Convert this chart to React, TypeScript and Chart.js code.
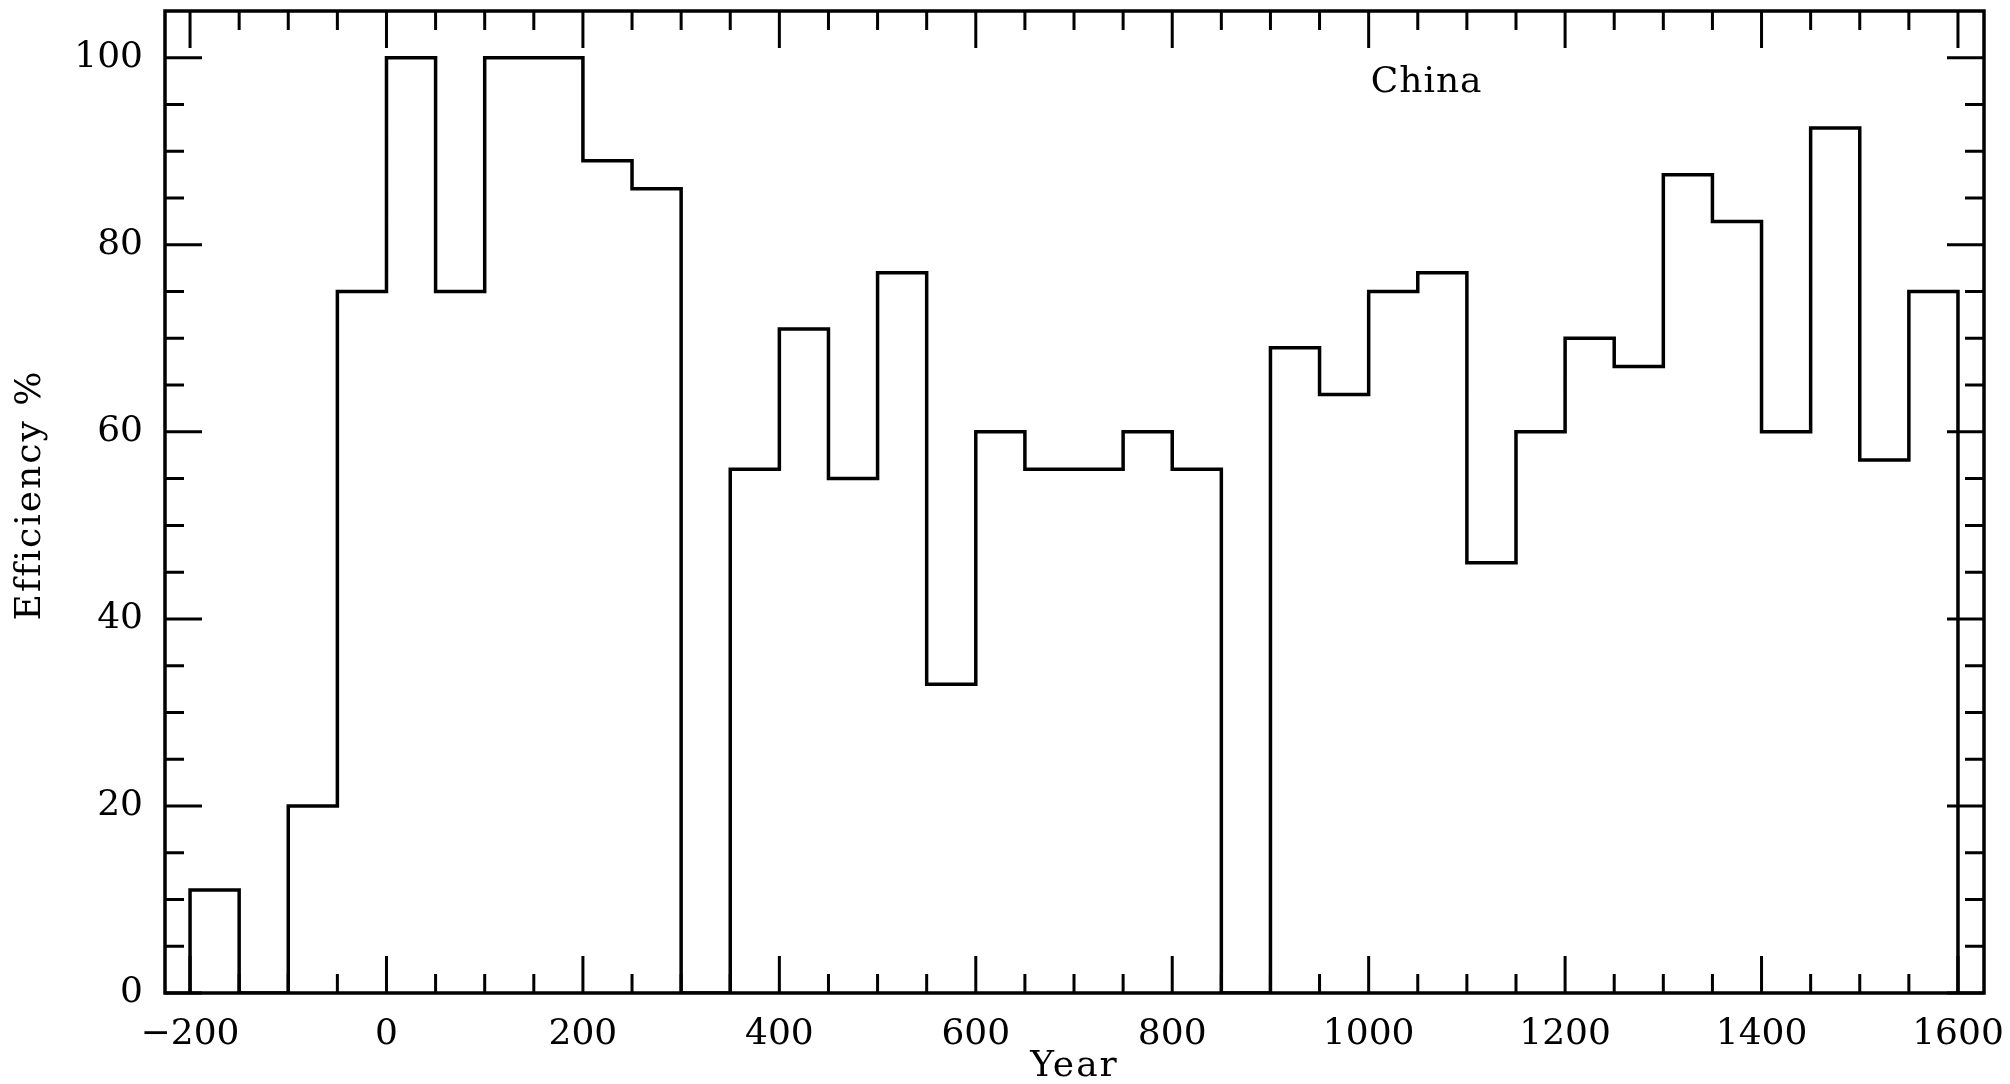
import React, { useEffect, useRef } from 'react';
import { Chart, registerables } from 'chart.js';

Chart.register(...registerables);

// Left edge (year) of each 50-year bin
const binStarts = [
  -200, -150, -100, -50, 0, 50, 100, 150, 200, 250,
  300, 350, 400, 450, 500, 550, 600, 650, 700, 750,
  800, 850, 900, 950, 1000, 1050, 1100, 1150, 1200, 1250,
  1300, 1350, 1400, 1450, 1500, 1550,
];
const binWidth = 50;

// Efficiency % per bin
const efficiency = [
  11, 0, 20, 75, 100, 75, 100, 100, 89, 86,
  0, 56, 71, 55, 77, 33, 60, 56, 56, 60,
  56, 0, 69, 64, 75, 77, 46, 60, 70, 67,
  87.5, 82.5, 60, 92.5, 57, 75,
];

const xTickLabels = [-200, 0, 200, 400, 600, 800, 1000, 1200, 1400, 1600];
const yTickLabels = [0, 20, 40, 60, 80, 100];
const xMinorStep = 50;
const yMinorStep = 5;

const xTitle = 'Year';
const yTitle = 'Efficiency %';
const regionLabel = 'China';
const regionLabelPos = { x: 1059, y: 97.3 };

const FONT_FAMILY = '"DejaVu Serif", "Liberation Serif", serif';
const FONT_SIZE = 36;

const W = 2010;
const H = 1084;
const PLOT = { left: 165, right: 1984, top: 11, bottom: 993 };
const X_TITLE_Y = 1067;
const Y_TITLE_X = 31;
const Y_TITLE_Y = 495;
const LINE_W = 3.5;

const framePlugin = {
  id: 'frameTicks',
  afterDraw(chart: any) {
    const { ctx, chartArea, scales } = chart;
    const { left, right, top, bottom } = chartArea;
    const xs = scales.x;
    const ys = scales.y;
    const majorLen = 37;
    const minorLen = 19;
    ctx.save();
    ctx.strokeStyle = '#000';
    ctx.lineWidth = 3;
    ctx.lineCap = 'butt';
    ctx.lineJoin = 'miter';
    ctx.beginPath();
    const x0 = xTickLabels[0];
    const x1 = xTickLabels[xTickLabels.length - 1];
    for (let v = x0; v <= x1; v += xMinorStep) {
      const px = xs.getPixelForValue(v);
      const len = xTickLabels.includes(v) ? majorLen : minorLen;
      ctx.moveTo(px, bottom);
      ctx.lineTo(px, bottom - len);
      ctx.moveTo(px, top);
      ctx.lineTo(px, top + len);
    }
    const y0 = yTickLabels[0];
    const y1 = yTickLabels[yTickLabels.length - 1];
    for (let v = y0; v <= y1; v += yMinorStep) {
      const py = ys.getPixelForValue(v);
      const len = yTickLabels.includes(v) ? majorLen : minorLen;
      ctx.moveTo(left, py);
      ctx.lineTo(left + len, py);
      ctx.moveTo(right, py);
      ctx.lineTo(right - len, py);
    }
    ctx.stroke();
    ctx.lineWidth = LINE_W;
    ctx.strokeRect(left, top, right - left, bottom - top);

    ctx.fillStyle = '#000';
    ctx.font = `${FONT_SIZE}px ${FONT_FAMILY}`;
    ctx.textAlign = 'center';
    ctx.textBaseline = 'middle';
    (ctx as any).letterSpacing = '1px';
    ctx.fillText(
      regionLabel,
      xs.getPixelForValue(regionLabelPos.x),
      ys.getPixelForValue(regionLabelPos.y)
    );
    (ctx as any).letterSpacing = '2px';
    ctx.fillText(xTitle, (left + right) / 2, X_TITLE_Y);
    ctx.save();
    ctx.translate(Y_TITLE_X, Y_TITLE_Y);
    ctx.rotate(-Math.PI / 2);
    ctx.fillText(yTitle, 0, 0);
    ctx.restore();
    ctx.restore();
  },
};

export default function App() {
  const canvasRef = useRef<HTMLCanvasElement | null>(null);

  useEffect(() => {
    const canvas = canvasRef.current;
    if (!canvas) return;

    const lastEdge = binStarts[binStarts.length - 1] + binWidth;
    const points = [
      { x: binStarts[0], y: 0 },
      ...binStarts.map((x, i) => ({ x, y: efficiency[i] })),
      { x: lastEdge, y: 0 },
    ];

    const font = { family: FONT_FAMILY, size: FONT_SIZE, weight: 'normal' as const };

    const chart = new Chart(canvas, {
      type: 'line',
      data: {
        datasets: [
          {
            data: points,
            stepped: 'before',
            borderColor: '#000',
            borderWidth: LINE_W,
            pointRadius: 0,
            fill: false,
            tension: 0,
          } as any,
        ],
      },
      options: {
        animation: false,
        responsive: false,
        maintainAspectRatio: false,
        events: [],
        layout: {
          padding: { left: 0, right: W - PLOT.right, top: PLOT.top, bottom: 0 },
        },
        plugins: {
          legend: { display: false },
          tooltip: { enabled: false },
        },
        scales: {
          x: {
            type: 'linear',
            min: -225.5,
            max: 1626.5,
            grid: { display: false, drawTicks: false },
            border: { display: false },
            ticks: {
              font,
              color: '#000',
              padding: 20,
              maxRotation: 0,
              autoSkip: false,
              callback: (v: any) => String(v).replace('-', '\u2212'),
            },
            afterBuildTicks: (s: any) => {
              s.ticks = xTickLabels.map((v) => ({ value: v }));
            },
            afterFit: (s: any) => {
              s.height = H - PLOT.bottom;
              s.paddingLeft = 0;
              s.paddingRight = 0;
              s.paddingTop = 0;
              s.paddingBottom = 0;
            },
          },
          y: {
            type: 'linear',
            min: 0,
            max: 105,
            grid: { display: false, drawTicks: false },
            border: { display: false },
            ticks: {
              font,
              color: '#000',
              padding: 22,
              autoSkip: false,
            },
            afterBuildTicks: (s: any) => {
              s.ticks = yTickLabels.map((v) => ({ value: v }));
            },
            afterFit: (s: any) => {
              s.width = PLOT.left;
              s.paddingLeft = 0;
              s.paddingRight = 0;
              s.paddingTop = 0;
              s.paddingBottom = 0;
            },
          },
        },
      },
      plugins: [framePlugin],
    });

    return () => {
      chart.destroy();
    };
  }, []);

  return (
    <div
      style={{
        position: 'absolute',
        left: 0,
        top: 0,
        width: W,
        height: H,
        background: '#fff',
      }}
    >
      <canvas ref={canvasRef} width={W} height={H} style={{ display: 'block' }} />
    </div>
  );
}
